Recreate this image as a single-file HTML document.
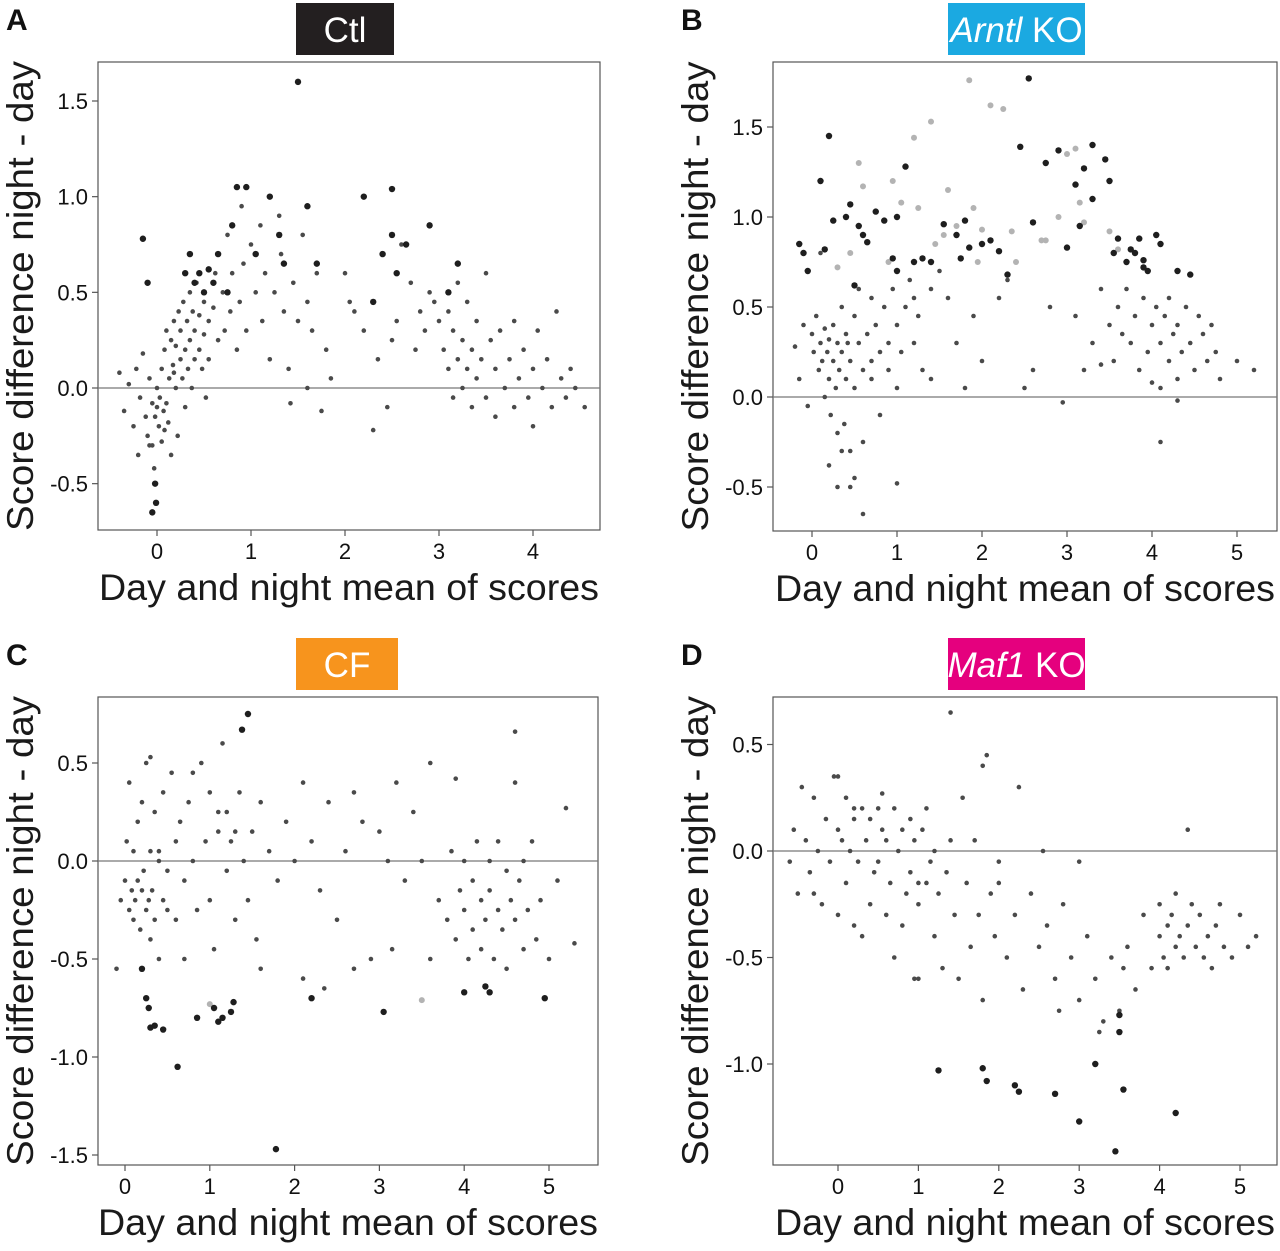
<!DOCTYPE html>
<html><head><meta charset="utf-8"><style>
body{margin:0;background:#fff;}
svg{display:block;font-family:"Liberation Sans",Arial,sans-serif;}
</style></head><body>
<svg id="fig" width="1280" height="1251" viewBox="0 0 1280 1251" xmlns="http://www.w3.org/2000/svg"></svg>
<script>
// ---- Panel A (Ctl) data ----
const aGrayX=[-0.4,-0.35,-0.3,-0.25,-0.22,-0.2,-0.18,-0.15,-0.12,-0.1,-0.08,-0.05,-0.05,-0.03,0,0,0.02,0.03,0.05,0.05,0.07,0.08,0.1,0.1,0.12,0.13,0.15,0.15,0.17,0.18,0.2,0.2,0.22,0.23,0.25,0.25,0.27,0.28,0.3,0.3,0.32,0.33,0.35,0.35,0.37,0.38,0.4,0.4,0.42,0.45,0.45,0.48,0.5,0.5,0.52,0.55,0.55,0.6,0.62,0.65,0.7,0.72,0.75,0.78,0.8,0.85,0.88,0.9,0.92,0.95,1.0,1.05,1.1,1.12,1.15,1.2,1.25,1.3,1.32,1.35,1.4,1.42,1.45,1.5,1.55,1.6,1.6,1.65,1.7,1.75,1.8,1.85,2.0,2.05,2.1,2.2,2.3,2.35,2.45,2.5,2.55,2.6,2.7,2.75,2.8,2.85,2.9,2.95,3.0,3.05,3.1,3.1,3.15,3.15,3.2,3.2,3.25,3.25,3.3,3.3,3.35,3.35,3.4,3.4,3.45,3.5,3.5,3.55,3.6,3.6,3.65,3.7,3.75,3.8,3.8,3.85,3.9,3.95,4.0,4.0,4.05,4.1,4.15,4.2,4.25,4.3,4.35,4.4,4.45,4.55,-0.02,0.08,0.18,-0.08];
const aGrayY=[0.08,-0.12,0.02,-0.2,0.1,-0.35,-0.05,0.18,-0.15,-0.25,0.05,-0.08,-0.3,-0.42,-0.1,0.0,-0.2,-0.05,0.1,-0.28,-0.12,0.2,-0.08,0.3,-0.18,0.05,0.25,-0.35,0.12,0.35,0.0,0.22,-0.25,0.4,0.15,0.3,0.05,0.45,0.2,-0.1,0.35,0.1,0.5,0.25,0.0,0.4,0.3,0.15,0.55,0.2,0.38,0.1,0.45,0.28,-0.05,0.35,0.15,0.42,0.6,0.25,0.5,0.3,0.8,0.4,0.6,0.2,0.45,0.95,0.65,0.3,0.75,0.5,0.85,0.35,0.6,0.15,0.5,0.9,0.7,0.4,0.1,-0.08,0.55,0.35,0.8,0.45,0.0,0.3,0.6,-0.12,0.2,0.05,0.6,0.45,0.4,0.3,-0.22,0.15,-0.1,0.25,0.35,0.75,0.55,0.2,0.4,0.3,0.5,0.45,0.35,0.2,0.4,0.1,0.3,-0.05,0.15,0.55,0.0,0.25,0.1,0.45,-0.1,0.2,0.05,0.35,0.15,-0.05,0.6,0.25,0.1,-0.15,0.3,0.0,0.15,-0.1,0.35,0.05,0.2,-0.05,0.1,-0.2,0.3,0.0,0.15,-0.1,0.4,0.05,-0.05,0.1,0.0,-0.1,-0.15,-0.22,0.08,-0.3];
const aDarkX=[-0.15,-0.1,-0.02,-0.05,-0.01,0.3,0.35,0.4,0.45,0.5,0.55,0.6,0.65,0.75,0.8,0.85,0.95,1.05,1.2,1.3,1.35,1.5,1.6,1.7,2.2,2.3,2.4,2.5,2.5,2.55,2.65,2.9,3.2,3.1];
const aDarkY=[0.78,0.55,-0.5,-0.65,-0.6,0.6,0.7,0.55,0.6,0.5,0.62,0.55,0.7,0.5,0.85,1.05,1.05,0.7,1.0,0.8,0.65,1.6,0.95,0.65,1.0,0.45,0.7,1.04,0.8,0.6,0.75,0.85,0.65,0.5];
// ---- Panel B (Arntl KO) data ----
const bGrayX=[-0.2,-0.15,-0.1,-0.05,0,0.02,0.05,0.08,0.1,0.12,0.15,0.15,0.18,0.2,0.2,0.22,0.25,0.25,0.28,0.3,0.3,0.32,0.35,0.35,0.38,0.4,0.4,0.42,0.45,0.45,0.5,0.5,0.55,0.55,0.6,0.6,0.65,0.7,0.7,0.75,0.8,0.8,0.85,0.9,0.9,0.95,1.0,1.0,1.05,1.1,1.15,1.2,1.25,1.3,1.4,1.5,1.6,1.7,1.8,1.9,2.0,2.2,2.3,2.5,2.8,3.1,3.2,3.3,3.4,3.5,3.55,3.6,3.65,3.7,3.75,3.8,3.85,3.9,3.95,4.0,4.0,4.05,4.1,4.1,4.15,4.2,4.2,4.25,4.3,4.3,4.35,4.4,4.45,4.5,4.55,4.6,4.65,4.7,4.75,4.8,5.0,5.2,0.3,0.45,0.6,0.2,0.5,0.35,1.0,1.2,1.4,2.6,2.95,0.1,0.7,3.4,4.1,4.3];
const bGrayY=[0.28,0.1,0.4,-0.05,0.35,0.25,0.45,0.15,0.3,0.2,0.38,0.0,0.25,0.1,0.32,-0.1,0.2,0.4,0.05,0.3,-0.2,0.15,0.5,0.25,-0.15,0.35,0.1,0.3,-0.3,0.2,0.45,0.05,0.3,0.6,0.15,-0.25,0.35,0.55,0.1,0.4,0.25,-0.1,0.5,0.3,0.15,0.6,0.4,0.05,0.25,0.5,0.65,0.3,0.45,0.15,0.6,0.7,0.55,0.3,0.05,0.45,0.2,0.55,0.65,0.05,0.5,0.45,0.15,0.3,0.6,0.4,0.2,0.5,0.35,0.6,0.3,0.45,0.15,0.55,0.25,0.4,0.08,0.5,0.3,0.05,0.45,0.2,0.55,0.35,0.1,0.4,0.25,0.5,0.3,0.15,0.45,0.35,0.2,0.4,0.25,0.1,0.2,0.15,-0.5,-0.5,-0.65,-0.38,-0.45,-0.3,-0.48,0.55,0.1,0.15,-0.03,0.8,0.2,0.18,-0.25,-0.02];
const bLightX=[0.3,0.55,0.6,0.95,1.05,1.2,1.25,1.4,1.45,1.6,1.7,1.85,1.9,1.95,2.1,2.25,2.35,2.7,2.75,2.9,3.0,3.1,3.15,3.2,3.6,0.45,0.9,1.55,2.0,2.4,3.5];
const bLightY=[0.72,1.3,1.17,1.2,1.08,1.44,1.05,1.53,0.85,1.15,0.95,1.76,1.05,0.75,1.62,1.6,0.92,0.87,0.87,1.0,1.35,1.38,1.08,0.97,0.82,0.8,0.75,0.9,0.93,0.75,0.92];
const bDarkX=[-0.15,-0.1,-0.05,0.15,0.2,0.25,0.4,0.45,0.55,0.6,0.65,0.75,0.85,0.95,1.0,1.1,1.2,1.3,1.4,1.55,1.7,1.75,1.85,2.0,2.1,2.2,2.3,2.45,2.55,2.75,2.9,3.0,3.15,3.2,3.3,3.45,3.5,3.55,3.6,3.7,3.75,3.8,3.85,3.9,3.95,4.05,4.1,4.3,4.45,0.1,0.5,1.0,1.8,2.6,3.1,3.3,3.9];
const bDarkY=[0.85,0.8,0.7,0.82,1.45,0.98,1.0,1.07,0.95,0.9,0.86,1.03,0.98,0.77,1.0,1.28,0.75,0.77,0.75,0.96,0.9,0.77,0.83,0.85,0.87,0.81,0.68,1.39,1.77,1.3,1.37,0.83,0.95,1.27,1.4,1.32,1.2,0.8,0.88,0.75,0.82,0.8,0.88,0.76,0.7,0.9,0.85,0.7,0.68,1.2,0.62,0.7,0.98,0.97,1.18,1.1,0.72];
// ---- Panel C (CF) data ----
const cGrayX=[-0.1,-0.05,0,0.02,0.05,0.05,0.08,0.1,0.1,0.12,0.15,0.15,0.18,0.2,0.2,0.22,0.25,0.25,0.28,0.3,0.3,0.32,0.35,0.35,0.4,0.4,0.45,0.45,0.5,0.55,0.6,0.6,0.65,0.7,0.75,0.8,0.85,0.9,0.95,1.0,1.0,1.05,1.1,1.15,1.2,1.2,1.25,1.3,1.35,1.4,1.45,1.5,1.55,1.6,1.7,1.8,1.9,2.0,2.1,2.2,2.3,2.4,2.5,2.6,2.7,2.8,2.9,3.0,3.1,3.2,3.3,3.4,3.5,3.6,3.7,3.8,3.85,3.9,3.95,4.0,4.0,4.05,4.1,4.1,4.15,4.2,4.2,4.25,4.3,4.3,4.35,4.4,4.4,4.45,4.5,4.5,4.55,4.6,4.6,4.65,4.7,4.7,4.75,4.8,4.85,4.9,5.0,5.1,5.2,5.3,0.4,0.5,0.8,1.3,1.6,2.1,3.6,2.35,3.15,4.6,0.3,0.7,1.1,2.7,3.9];
const cGrayY=[-0.55,-0.2,-0.1,0.1,-0.25,0.4,-0.15,-0.3,0.05,-0.2,0.2,-0.1,-0.35,-0.15,0.3,-0.05,-0.25,0.5,-0.2,0.05,-0.4,-0.15,0.25,-0.3,0.0,-0.5,0.35,-0.2,-0.05,0.45,0.1,-0.3,0.2,-0.1,0.3,0.0,-0.25,0.5,0.1,-0.2,0.35,-0.45,0.15,0.6,-0.05,0.25,0.1,-0.3,0.35,0.0,-0.2,0.15,-0.4,0.3,0.05,-0.1,0.2,0.0,0.4,0.1,-0.15,0.3,-0.3,0.05,0.35,0.2,-0.5,0.15,0.0,0.4,-0.1,0.25,0.0,0.5,-0.2,-0.3,0.05,-0.4,-0.15,-0.25,0.0,-0.5,-0.1,-0.35,0.1,-0.2,-0.45,-0.3,0.0,-0.15,-0.5,-0.25,0.1,-0.35,-0.05,-0.55,-0.2,0.4,-0.3,-0.1,-0.45,0.0,-0.25,0.1,-0.4,-0.2,-0.5,-0.1,0.27,-0.42,0.05,-0.25,0.45,0.15,-0.55,-0.6,-0.5,-0.65,-0.45,0.66,0.53,-0.5,0.25,-0.55,0.42,0.35];
const cDarkX=[0.2,0.25,0.3,0.35,0.45,0.62,0.85,1.05,1.1,1.15,1.25,1.28,1.38,1.45,1.78,2.2,3.05,4.0,4.3,4.25,4.95,0.28];
const cDarkY=[-0.55,-0.7,-0.85,-0.84,-0.86,-1.05,-0.8,-0.75,-0.82,-0.8,-0.77,-0.72,0.67,0.75,-1.47,-0.7,-0.77,-0.67,-0.67,-0.64,-0.7,-0.75];
const cLightX=[1.0,3.5];
const cLightY=[-0.73,-0.71];
// ---- Panel D (Maf1 KO) data ----
const dGrayX=[-0.6,-0.55,-0.5,-0.45,-0.4,-0.35,-0.3,-0.25,-0.2,-0.15,-0.1,-0.05,0,0,0.05,0.1,0.1,0.15,0.2,0.2,0.25,0.3,0.3,0.35,0.4,0.4,0.45,0.5,0.5,0.55,0.6,0.6,0.65,0.7,0.7,0.75,0.8,0.8,0.85,0.9,0.9,0.95,1.0,1.0,1.05,1.1,1.1,1.15,1.2,1.2,1.25,1.3,1.35,1.4,1.45,1.5,1.55,1.6,1.65,1.7,1.75,1.8,1.85,1.9,1.95,2.0,2.1,2.2,2.3,2.4,2.5,2.6,2.7,2.8,2.9,3.0,3.1,3.2,3.3,3.4,3.5,3.6,3.7,3.8,3.9,4.0,4.0,4.05,4.1,4.1,4.15,4.2,4.2,4.25,4.3,4.35,4.4,4.45,4.5,4.55,4.6,4.65,4.7,4.75,4.8,4.9,5.0,5.1,5.2,-0.3,0.2,0.55,0.95,1.4,1.8,2.25,2.55,2.75,3.25,3.55,4.35,0.0,1.0,2.0,3.0];
const dGrayY=[-0.05,0.1,-0.2,0.3,0.05,-0.1,0.25,0.0,-0.25,0.15,-0.05,0.35,0.1,-0.3,0.05,0.25,-0.15,0.0,0.15,-0.35,-0.05,0.2,-0.4,0.05,0.15,-0.25,-0.1,0.2,-0.05,0.1,-0.3,0.05,-0.15,0.2,-0.5,0.0,0.1,-0.35,-0.2,0.15,-0.1,0.05,-0.25,-0.6,0.1,-0.15,0.2,-0.05,-0.4,0.0,-0.2,-0.55,-0.1,0.05,-0.3,-0.6,0.25,-0.15,-0.45,0.05,-0.3,-0.7,0.45,-0.2,-0.4,-0.15,-0.5,-0.3,-0.65,-0.2,-0.45,-0.35,-0.6,-0.25,-0.5,-0.7,-0.4,-0.6,-0.8,-0.5,-0.75,-0.45,-0.65,-0.3,-0.55,-0.4,-0.25,-0.5,-0.35,-0.55,-0.3,-0.45,-0.2,-0.4,-0.5,-0.35,-0.25,-0.45,-0.3,-0.5,-0.4,-0.55,-0.35,-0.25,-0.45,-0.5,-0.3,-0.45,-0.4,-0.2,0.2,0.27,-0.6,0.65,0.4,0.3,0.0,-0.75,-0.85,-0.55,0.1,0.35,-0.15,-0.05,-0.05];
const dDarkX=[1.25,1.8,1.85,2.2,2.25,2.7,3.0,3.2,3.5,3.55,3.45,4.2,3.5];
const dDarkY=[-1.03,-1.02,-1.08,-1.1,-1.13,-1.14,-1.27,-1.0,-0.85,-1.12,-1.41,-1.23,-0.77];

const NS='http://www.w3.org/2000/svg';
const svg=document.getElementById('fig');
function mk(tag,attrs,parent){const e=document.createElementNS(NS,tag);for(const k in attrs)e.setAttribute(k,attrs[k]);(parent||svg).appendChild(e);return e;}

function panel(p){
  const g=mk('g',{});
  
  
  const sx=v=>p.x0+(v-p.xa)*(p.x1-p.x0)/(p.xb-p.xa);
  const sy=v=>p.y0+(v-p.ya)*(p.y1-p.y0)/(p.yb-p.ya);
  const box=mk('rect',{x:p.L,y:p.T,width:p.R-p.L,height:p.B-p.T,fill:'none',stroke:'#555','stroke-width':1.2},g);
  
  
  const zl=mk('line',{x1:p.L,x2:p.R,y1:sy(0),y2:sy(0),stroke:'#777','stroke-width':1.2},g);
  
  
  p.xt.forEach(t=>{
    const tk=mk('line',{x1:sx(t),x2:sx(t),y1:p.B,y2:p.B+6,stroke:'#555','stroke-width':1.2},g);
    
    
    const tl=mk('text',{x:sx(t),y:p.B+29,'font-size':22,'text-anchor':'middle',fill:'#111'},g);
    tl.textContent=t;
    
    
  });
  p.yt.forEach(t=>{
    const tk=mk('line',{x1:p.L-6,x2:p.L,y1:sy(t),y2:sy(t),stroke:'#555','stroke-width':1.2},g);
    
    
    const tl=mk('text',{x:p.L-10,y:sy(t)+8,'font-size':22,'text-anchor':'end',fill:'#111'},g);
    tl.textContent=t.toFixed(1);
    
    
  });
  const series=[[p.gx,p.gy,'#4a4a4a',2.3,'gray-point'],[p.lx||[],p.ly||[],'#b3b3b3',3,'light-point'],[p.dx,p.dy,'#1e1e1e',3.2,'dark-point']];
  series.forEach(s=>{
    s[0].forEach((xv,i)=>{
      const c=mk('circle',{cx:sx(xv),cy:sy(s[1][i]),r:s[3],fill:s[2]},g);
      
      
    });
  });
  const cx=(p.L+p.R)/2;
  const xt=mk('text',{x:cx,y:p.B+70,'font-size':37,'text-anchor':'middle',fill:'#1a1a1a',textLength:500,lengthAdjust:'spacingAndGlyphs'},g);
  xt.textContent='Day and night mean of scores';
  
  
  const yc=(p.T+p.B)/2;
  const yt=mk('text',{x:0,y:0,'font-size':37,'text-anchor':'middle',fill:'#1a1a1a',textLength:470,lengthAdjust:'spacingAndGlyphs',transform:`translate(${p.L-65},${yc}) rotate(-90)`},g);
  yt.textContent='Score difference  night - day';
  
  
  const lt=mk('text',{x:p.L-92,y:p.T-32,'font-size':30,'font-weight':'bold',fill:'#111'},g);
  lt.textContent=p.letter;
  
  
  const tb=mk('rect',{x:p.tbx,y:p.T-59,width:p.tbw,height:52,fill:p.tbc},g);
  
  
  const tt=mk('text',{x:p.tbx+p.tbw/2,y:p.T-20,'font-size':35,'text-anchor':'middle',fill:'#fff'},g);
  tt.innerHTML=p.title;
  
  
}

panel({id:'ctl',letter:'A',title:'Ctl',tbx:296,tbw:98,tbc:'#231f20',L:98,R:600,T:62,B:530,
  xa:0,xb:4,x0:157,x1:533,ya:0,yb:1.5,y0:388,y1:101,xt:[0,1,2,3,4],yt:[-0.5,0,0.5,1,1.5],
  gx:aGrayX,gy:aGrayY,dx:aDarkX,dy:aDarkY});
panel({id:'arntl',letter:'B',title:'<tspan font-style="italic">Arntl</tspan> KO',tbx:948,tbw:137,tbc:'#1ba9e1',L:773,R:1277,T:62,B:531,
  xa:0,xb:4,x0:812,x1:1152,ya:0,yb:1.5,y0:397,y1:127,xt:[0,1,2,3,4,5],yt:[-0.5,0,0.5,1,1.5],
  gx:bGrayX,gy:bGrayY,lx:bLightX,ly:bLightY,dx:bDarkX,dy:bDarkY});
panel({id:'cf',letter:'C',title:'CF',tbx:296,tbw:102,tbc:'#f7941d',L:98,R:598,T:697,B:1165,
  xa:0,xb:5,x0:125,x1:549,ya:0,yb:-1.5,y0:861,y1:1155,xt:[0,1,2,3,4,5],yt:[-1.5,-1,-0.5,0,0.5],
  gx:cGrayX,gy:cGrayY,lx:cLightX,ly:cLightY,dx:cDarkX,dy:cDarkY});
panel({id:'maf1',letter:'D',title:'<tspan font-style="italic">Maf1</tspan> KO',tbx:948,tbw:137,tbc:'#e5007e',L:773,R:1277,T:697,B:1165,
  xa:0,xb:5,x0:838,x1:1240,ya:0,yb:-1,y0:851,y1:1064,xt:[0,1,2,3,4,5],yt:[-1,-0.5,0,0.5],
  gx:dGrayX,gy:dGrayY,dx:dDarkX,dy:dDarkY});
</script>
</body></html>
